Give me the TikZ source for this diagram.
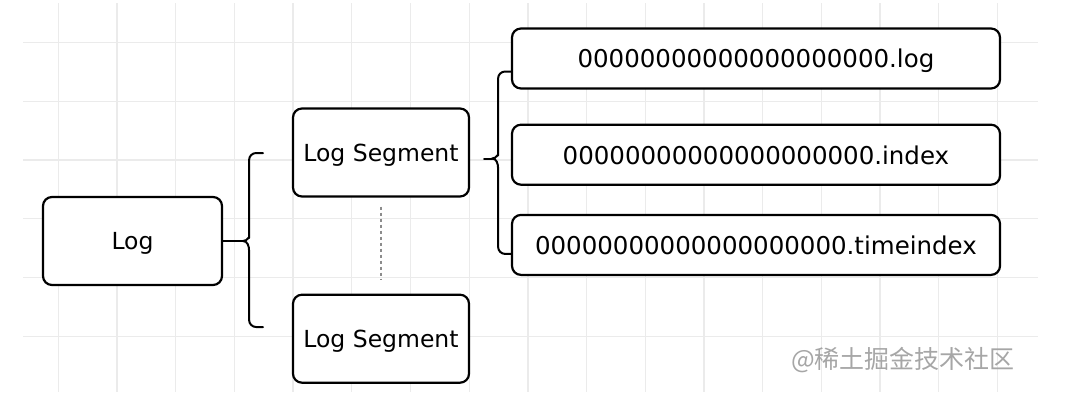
\documentclass[tikz,border=0pt]{standalone}
\usepackage{fontspec}
\setmainfont{DejaVu Sans}
\newfontfamily\cjkfont{Noto Sans CJK SC}
\usepackage{tikz}
\usetikzlibrary{calc,positioning}
\definecolor{grid_gray}{HTML}{EBEBEB}
\definecolor{mark_gray}{HTML}{A6A6A6}
\definecolor{dots_gray}{HTML}{8C8C8C}
\tikzset{
sketch_box/.style={rectangle, rounded corners=9pt, draw, line width=2.2pt, fill=white, text=black, anchor=center, inner sep=0pt, text depth=0pt},
segment_box/.style={sketch_box, minimum width=176pt, minimum height=88pt, font=\fontsize{23.5}{28}\selectfont},
file_box/.style={sketch_box, minimum width=488pt, minimum height=60pt, font=\fontsize{24.5}{29}\selectfont},
brace_line/.style={draw, line width=2pt, line cap=round, line join=round},
grid_line/.style={draw=grid_gray, line width=1.3pt},
dots_line/.style={draw=dots_gray, line width=1.6pt, dash pattern=on 3pt off 3pt},
mark_text/.style={text=mark_gray, font=\cjkfont\fontsize{25}{28}\selectfont}
}

\begin{document}
\begin{tikzpicture}[x=1pt,y=-1pt]
    \useasboundingbox (0,0) rectangle (1084,410);
    % grid paper
    \foreach \i in {0,...,16}
        \draw[grid_line] ({58.3+58.7*\i},3) -- ({58.3+58.7*\i},392);
    \foreach \j in {0,...,5}
        \draw[grid_line] (23,{42.7+58.7*\j}) -- (1038,{42.7+58.7*\j});

    \node[segment_box, minimum width=179pt] (log) at (132.5,241) {Log};
    \node[segment_box] (seg_1) at (381,152.5) {Log Segment};
    \node[segment_box] (seg_2) [below=96pt of seg_1] {Log Segment};
    \node[file_box] (file_1) at (756,58.5) {00000000000000000000.log};
    \node[file_box] (file_2) [below=34pt of file_1] {00000000000000000000.index};
    \node[file_box] (file_3) [below=28pt of file_2] {00000000000000000000.timeindex};

    \draw[dots_line] ($(seg_1.south)+(0,9)$) -- ($(seg_2.north)+(0,-14)$);

    % left brace
    \coordinate (lb_tip) at ($(log.east)+(26,0)$);
    \coordinate (lb_top) at (263,153);
    \coordinate (lb_bot) at (263,327);
    \draw[brace_line] (log.east) -- ($(lb_tip)+(-6,0)$);
    \draw[brace_line] (lb_top) [rounded corners=7pt] -| ($(lb_tip)+(0,-10)$)
        [sharp corners] to[out=-90,in=0] ($(lb_tip)+(-6,0)$) to[out=0,in=90] ($(lb_tip)+(0,10)$)
        [rounded corners=7pt] |- (lb_bot);

    % right brace
    \coordinate (rb_tail) at ($(seg_1.east)+(14,6)$);
    \coordinate (rb_tip) at ($(seg_1.east)+(28,6)$);
    \draw[brace_line] (rb_tail) -- ($(rb_tip)+(-6,0)$);
    \draw[brace_line] ($(file_1.west)+(0,13)$) [rounded corners=7pt] -| ($(rb_tip)+(0,-10)$)
        [sharp corners] to[out=-90,in=0] ($(rb_tip)+(-6,0)$) to[out=0,in=90] ($(rb_tip)+(0,10)$)
        [rounded corners=7pt] |- ($(file_3.west)+(0,9)$);

    \node[mark_text] (watermark) at (903,360) {@稀土掘金技术社区};
\end{tikzpicture}
\end{document}
